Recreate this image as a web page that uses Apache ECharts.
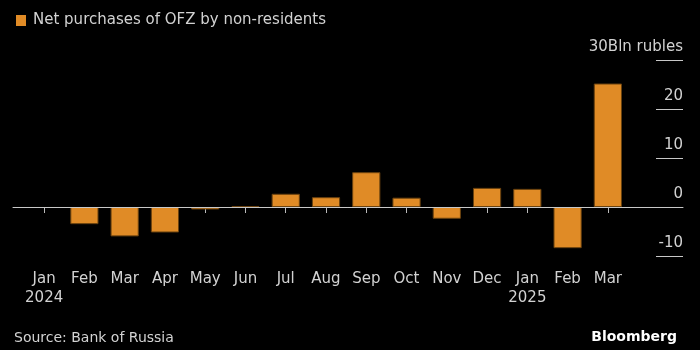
<!DOCTYPE html>
<html>
<head>
<meta charset="utf-8">
<script src="https://cdn.jsdelivr.net/npm/echarts@6/dist/echarts.min.js"></script>
<style>
  html, body { margin: 0; padding: 0; background: #000; }
  #chart { width: 700px; height: 350px; }
</style>
</head>
<body>
<div id="chart"></div>
<script>
// monthly net purchases of OFZ by non-residents, bln rubles
var periods = ['2024-01', '2024-02', '2024-03', '2024-04', '2024-05', '2024-06', '2024-07', '2024-08',
               '2024-09', '2024-10', '2024-11', '2024-12', '2025-01', '2025-02', '2025-03'];
var monthLabels = ['Jan', 'Feb', 'Mar', 'Apr', 'May', 'Jun', 'Jul', 'Aug', 'Sep', 'Oct', 'Nov', 'Dec', 'Jan', 'Feb', 'Mar'];
var yearLabels = ['2024', '', '', '', '', '', '', '', '', '', '', '', '2025', '', ''];
var purchases = [-0.2, -3.5, -6.0, -5.2, -0.5, 0.2, 2.7, 2.0, 7.1, 1.9, -2.4, 3.9, 3.7, -8.4, 25.2];

var yMin = -10, yMax = 30, yStep = 10;
var unitLabel = 'Bln rubles';

var font = 'DejaVu Sans';
var textColor = '#d2d2d2';
var lineColor = '#c8c8c8';

var chart = echarts.init(document.getElementById('chart'));

var option = {
    backgroundColor: '#000',
    animation: false,
    textStyle: { fontFamily: font },
    title: [
        {
            text: 'Source: Bank of Russia',
            left: 9, top: 326,
            textStyle: { color: textColor, fontSize: 14, fontWeight: 'normal', fontFamily: font }
        },
        {
            text: 'Bloomberg',
            right: 18, top: 325,
            textStyle: { color: '#fff', fontSize: 14, fontWeight: 'bold', fontFamily: font }
        }
    ],
    legend: {
        left: 16, top: 13, padding: 0,
        itemWidth: 10, itemHeight: 11,
        icon: 'rect',
        itemStyle: { borderWidth: 0 },
        data: ['Net purchases of OFZ by non-residents'],
        textStyle: { color: textColor, fontSize: 15, padding: [0, 0, 0, 2] }
    },
    grid: [
        { left: 24, width: 604, top: 60, bottom: 94 },   // bars
        { left: 13, right: 17, top: 60, bottom: 94 },    // zero line
        { left: 656, right: 17, top: 60, bottom: 94 }    // right axis ticks
    ],
    xAxis: [
        {
            type: 'category', gridIndex: 0,
            data: periods,
            axisLine: { show: false },
            axisTick: { show: true, alignWithLabel: true, length: 6, lineStyle: { color: '#bbb' } },
            axisLabel: {
                interval: 0, color: textColor, fontSize: 15, lineHeight: 19, margin: 14,
                formatter: function (value, index) {
                    return yearLabels[index] ? monthLabels[index] + '\n' + yearLabels[index] : monthLabels[index];
                }
            }
        },
        {
            type: 'value', gridIndex: 1, min: 0, max: 1, z: 10,
            axisLine: { show: true, onZero: true, lineStyle: { color: lineColor, width: 1 } },
            axisTick: { show: false }, axisLabel: { show: false }, splitLine: { show: false }
        },
        { type: 'value', gridIndex: 2, show: false, min: 0, max: 1 }
    ],
    yAxis: [
        { type: 'value', gridIndex: 0, min: yMin, max: yMax, interval: yStep, show: false },
        { type: 'value', gridIndex: 1, min: yMin, max: yMax, interval: yStep, show: false },
        {
            type: 'value', gridIndex: 2, min: yMin, max: yMax, interval: yStep,
            position: 'right',
            axisLine: { show: false }, axisTick: { show: false },
            splitLine: { show: true, lineStyle: { color: lineColor, width: 1 } },
            axisLabel: {
                inside: true, margin: 0, color: textColor, fontSize: 15,
                verticalAlign: 'bottom', padding: [0, 0, 5, 0],
                showMinLabel: true, showMaxLabel: true,
                formatter: function (v) {
                    return v === yMax ? v + unitLabel : String(v);
                }
            }
        }
    ],
    series: [
        {
            name: 'Net purchases of OFZ by non-residents',
            type: 'bar',
            xAxisIndex: 0, yAxisIndex: 0,
            barWidth: '70%',
            itemStyle: { color: '#e08b26', borderColor: '#6a420f', borderWidth: 1 },
            data: purchases
        }
    ]
};

chart.setOption(option);
</script>
</body>
</html>
